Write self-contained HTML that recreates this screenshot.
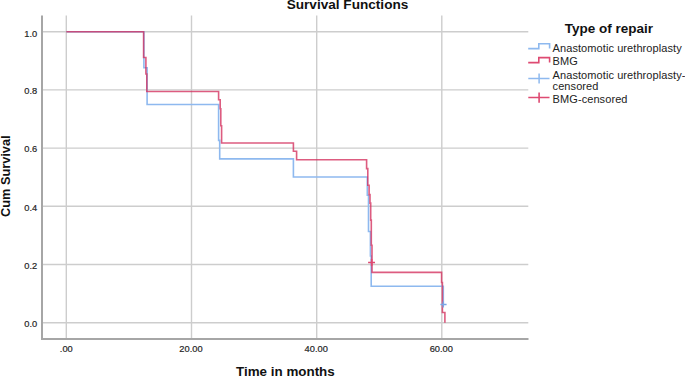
<!DOCTYPE html>
<html><head><meta charset="utf-8">
<style>
html,body{margin:0;padding:0;background:#fff;width:685px;height:377px;overflow:hidden}
svg{display:block}
text{font-family:"Liberation Sans",sans-serif;fill:#222}
.t{font-weight:bold;fill:#111}
.ax{font-size:9.8px;fill:#2a2a2a;stroke:#2a2a2a;stroke-width:0.2px}
.lg{font-size:11px;fill:#262626;letter-spacing:0.08px}
</style></head>
<body>
<svg width="685" height="377" viewBox="0 0 685 377">
<rect width="685" height="377" fill="#fff"/>
<!-- gridlines -->
<g stroke="#cdcdcd" stroke-width="1.4" fill="none">
<path d="M42 31.7H528.3M42 89.9H528.3M42 148.1H528.3M42 206.3H528.3M42 264.5H528.3M42 322.8H528.3"/>
<path d="M66.3 15.5V339M191.5 15.5V339M316.7 15.5V339M441.8 15.5V339"/>
</g>
<!-- axes -->
<path d="M42 15.5V339H528.5" stroke="#a6a6a6" stroke-width="2" fill="none"/>
<!-- curves -->
<g fill="none" stroke-width="1.6" stroke-linejoin="miter">
<path stroke="#8eb9ef" d="M66.3 31.7H143.9V67.7H147.1V104.5H218.6V140.4H219.7V158.9H293.4V177H367.3V195.2H368.5V231.5H370.4V256H371.2V286.2H443.3V304.4"/>
<path stroke="#d42e5c" stroke-opacity="0.78" d="M66.3 31.7H143.6V57.5H145.9V74H146.8V91.5H218.6V99.8H220.2V108.8H220.8V125.8H221.6V143H293.4V151.3H296.6V159.8H366.6V168.6H367.8V185.3H369.1V194.6H370V203.1H370.7V220.1H371.3V245.3H372V272.4H441.6V282.5H442.4V312.5H444.9V322.8"/>
</g>
<!-- censor marks -->
<path d="M440.4 304.4H446.6M443.3 301.4V307.4" stroke="#7aa6e6" stroke-width="1.5"/>
<path d="M368.1 262.5H375M371.6 259V266" stroke="#de4a72" stroke-width="1.6"/>
<!-- y labels -->
<g class="ax" text-anchor="end">
<text transform="translate(37.3,36.6) scale(0.95,1)">1.0</text>
<text transform="translate(37.3,94.2) scale(0.95,1)">0.8</text>
<text transform="translate(37.3,152.4) scale(0.95,1)">0.6</text>
<text transform="translate(37.3,210.6) scale(0.95,1)">0.4</text>
<text transform="translate(37.3,268.8) scale(0.95,1)">0.2</text>
<text transform="translate(37.3,327.1) scale(0.95,1)">0.0</text>
</g>
<!-- x labels -->
<g class="ax" text-anchor="middle">
<text transform="translate(66.3,352.2) scale(0.95,1)">.00</text>
<text transform="translate(191,352.2) scale(0.95,1)">20.00</text>
<text transform="translate(316.2,352.2) scale(0.95,1)">40.00</text>
<text transform="translate(441.3,352.2) scale(0.95,1)">60.00</text>
</g>
<!-- titles -->
<text class="t" x="347.5" y="9.3" text-anchor="middle" font-size="13.6">Survival Functions</text>
<text class="t" x="285.4" y="376.2" text-anchor="middle" font-size="13.4">Time in months</text>
<text class="t" transform="translate(10.4,176.2) rotate(-90) scale(0.96,1)" text-anchor="middle" font-size="13.3">Cum Survival</text>
<!-- legend -->
<text class="t" x="608.8" y="32.5" text-anchor="middle" font-size="13.5">Type of repair</text>
<path d="M528.2 48.6H538.8V43.8H549.6V48.6" stroke="#8eb9ef" stroke-width="1.6" fill="none"/>
<path d="M528.2 62.6H538.8V57.6H549.6V62.6" stroke="#de4a72" stroke-width="1.6" fill="none"/>
<path d="M528.3 78.6H549.5M539.1 73.4V83.6" stroke="#8eb9ef" stroke-width="1.5" fill="none"/>
<path d="M528.3 97.5H549.5M539.1 92.6V102.8" stroke="#de4a72" stroke-width="1.6" fill="none"/>
<g class="lg">
<text x="552.6" y="51.6">Anastomotic urethroplasty</text>
<text x="552.6" y="65.2">BMG</text>
<text x="552.6" y="78.8">Anastomotic urethroplasty-</text>
<text x="552.6" y="89.9">censored</text>
<text x="552.6" y="102.6">BMG-censored</text>
</g>
</svg>
</body></html>
